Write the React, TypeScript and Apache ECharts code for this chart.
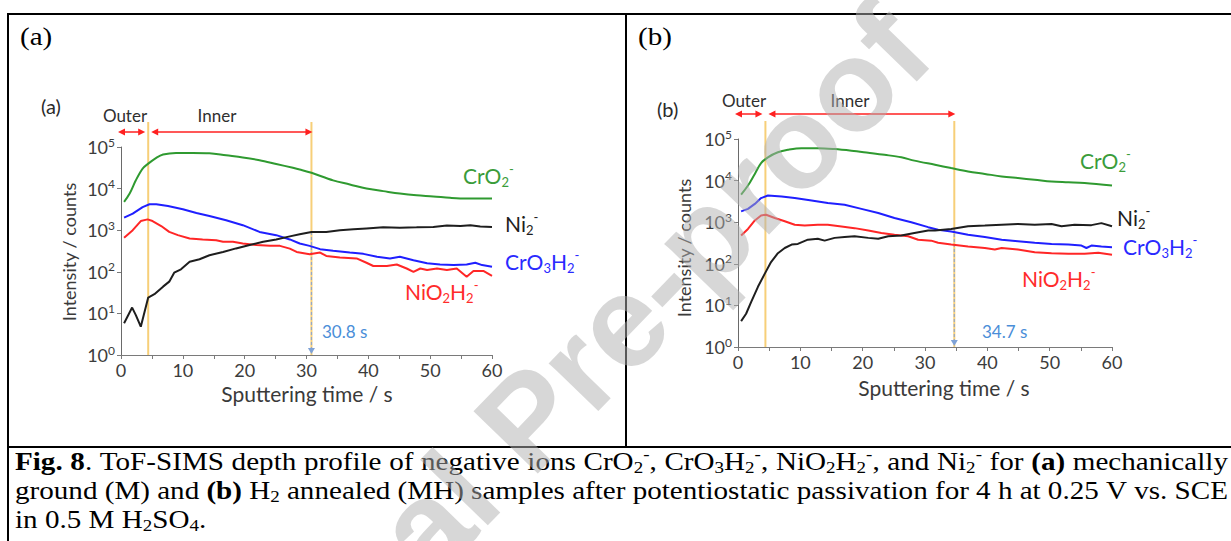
import React, { useEffect, useRef } from "react";
import * as echarts from "echarts";

type Pt = [number, number]; // [sputtering time (s), intensity (counts)]

// ---- (a) mechanically ground (M) ----
const cro2M: Pt[] = [
  [0.5, 4800], [1.4, 7600], [2.4, 15800], [3.5, 30200], [4.4, 39800], [5.7, 55000],
  [6.8, 66000], [8.9, 72000], [11.6, 72000], [14.3, 71000], [17.0, 63000], [19.7, 56000],
  [22.4, 48000], [25.1, 39000], [27.8, 31600], [28.9, 28800], [30.8, 24000], [34.3, 15800],
  [37.0, 12600], [39.7, 10000], [42.4, 8700], [45.1, 7600], [47.8, 6900], [50.5, 6500],
  [53.2, 6000], [55.9, 5750], [60.0, 5750],
];
const cro3h2M: Pt[] = [
  [0.5, 2000], [1.9, 2500], [3.5, 3600], [4.6, 4200], [5.7, 4200], [7.6, 3800], [10.0, 3200],
  [12.2, 2600], [14.3, 2200], [17.0, 1740], [19.7, 1320], [22.4, 910], [25.1, 760], [27.3, 600],
  [28.9, 480], [30.5, 420], [32.2, 350], [34.3, 320], [37.0, 290], [39.2, 270], [41.4, 230],
  [43.5, 210], [45.1, 230], [47.3, 190], [49.5, 160], [51.6, 150], [53.8, 145], [55.9, 150],
  [57.3, 165], [58.4, 145], [60.0, 132],
];
const nio2h2M: Pt[] = [
  [0.5, 660], [1.9, 1000], [3.2, 1660], [4.3, 1820], [5.1, 1660], [6.5, 1260], [7.8, 910],
  [9.2, 760], [11.1, 630], [13.2, 600], [15.4, 575], [16.5, 525], [18.1, 525], [19.7, 480],
  [21.9, 440], [24.1, 420], [25.7, 420], [27.3, 360], [28.4, 300], [30.5, 265], [32.2, 290],
  [33.2, 240], [35.4, 220], [38.1, 210], [39.7, 165], [40.8, 138], [43.0, 138], [44.6, 150],
  [46.2, 120], [47.3, 100], [48.4, 120], [49.5, 110], [51.1, 120], [52.7, 110], [54.3, 120],
  [55.9, 76], [57.0, 105], [58.6, 105], [60.0, 80],
];
const ni2M: Pt[] = [
  [0.5, 5.8], [1.8, 13.8], [2.4, 9.1], [3.2, 4.8], [4.4, 24], [5.4, 29], [6.8, 44], [7.8, 58],
  [8.6, 95], [9.7, 115], [11.1, 174], [12.7, 200], [14.3, 250], [16.5, 300], [18.6, 365],
  [20.8, 440], [23.0, 525], [25.1, 600], [27.3, 710], [28.9, 800], [30.8, 910], [33.2, 910],
  [35.4, 1000], [37.6, 1050], [39.7, 1100], [42.4, 1170], [45.1, 1150], [47.8, 1170], [50.5, 1200],
  [52.7, 1290], [54.9, 1260], [56.5, 1320], [58.1, 1230], [60.0, 1200],
];
const boundariesM = [4.4, 30.8];

// ---- (b) H2 annealed (MH) ----
const cro2MH: Pt[] = [
  [0.5, 4600], [1.6, 7600], [2.7, 14500], [3.7, 26300], [4.8, 36300], [6.4, 47900], [8.0, 55000],
  [10.2, 60300], [12.8, 60300], [15.5, 57500], [18.2, 52500], [20.9, 46800], [23.5, 41700],
  [26.2, 36300], [28.3, 30200], [31.6, 24000], [34.2, 20000], [36.9, 16600], [39.6, 14500],
  [42.3, 12600], [44.9, 11500], [47.6, 10500], [50.3, 9500], [53.0, 9100], [55.6, 8700], [60.0, 7600],
];
const cro3h2MH: Pt[] = [
  [0.5, 1820], [1.6, 2090], [2.7, 2750], [3.7, 3800], [4.8, 4370], [7.0, 4170], [9.1, 3800],
  [11.8, 3310], [14.4, 2880], [17.1, 2630], [19.8, 2090], [22.5, 1660], [25.1, 1260], [27.8, 1000],
  [30.5, 760], [32.1, 660], [34.2, 600], [36.9, 500], [39.6, 440], [42.3, 380], [44.9, 350],
  [47.6, 320], [50.3, 300], [53.0, 290], [55.1, 275], [55.9, 240], [56.7, 275], [58.3, 260], [60.0, 250],
];
const nio2h2MH: Pt[] = [
  [0.5, 480], [1.6, 690], [2.7, 1100], [3.7, 1450], [4.5, 1510], [5.9, 1260], [7.5, 1050],
  [9.1, 870], [10.7, 830], [12.8, 870], [14.4, 870], [16.6, 790], [18.7, 720], [20.9, 630],
  [23.0, 550], [25.1, 500], [27.3, 460], [28.9, 380], [31.0, 360], [32.1, 320], [34.2, 290],
  [36.9, 260], [39.6, 240], [41.2, 220], [42.3, 240], [44.9, 220], [47.6, 190], [50.3, 180],
  [53.0, 175], [55.6, 175], [57.8, 185], [60.0, 165],
];
const ni2MH: Pt[] = [
  [0.5, 4.2], [1.3, 6.3], [2.1, 12], [3.2, 28], [4.3, 58], [5.3, 110], [6.4, 180], [7.5, 240],
  [8.6, 290], [9.6, 300], [11.2, 380], [12.8, 400], [13.9, 360], [15.5, 420], [17.1, 440],
  [18.7, 460], [20.9, 420], [22.5, 400], [24.1, 460], [26.2, 480], [28.3, 550], [30.5, 630],
  [31.6, 630], [34.2, 690], [36.9, 800], [39.6, 830], [42.3, 870], [44.9, 910], [47.6, 870],
  [50.3, 910], [51.9, 800], [54.0, 870], [56.7, 850], [58.3, 950], [60.0, 800],
];
const boundariesMH = [4.4, 34.7];

// axis ranges
const timeRange = [0, 60];
const timeStep = 10;
const countRange = [1, 100000];

const SANS = "Lato";
const SERIF = "Liberation Serif";
const RED = "#ff2020";

type Ion = "cro2" | "cro3h2" | "nio2h2" | "ni2";
const ionOrder: Ion[] = ["cro2", "cro3h2", "nio2h2", "ni2"];
const lineColors: Record<Ion, string> = {
  cro2: "#2f9a30", cro3h2: "#1f1fff", nio2h2: "#ff2626", ni2: "#1e1e1e",
};
const labelColors: Record<Ion, string> = {
  cro2: "#3a9c3a", cro3h2: "#2a2aff", nio2h2: "#ff2b2b", ni2: "#1e1e1e",
};
const ionNames: Record<Ion, [string, string][]> = {
  cro2: [["n", "CrO"], ["s", "2"], ["p", "-"]],
  ni2: [["n", "Ni"], ["s", "2"], ["p", "-"]],
  cro3h2: [["n", "CrO"], ["s", "3"], ["n", "H"], ["s", "2"], ["p", "-"]],
  nio2h2: [["n", "NiO"], ["s", "2"], ["n", "H"], ["s", "2"], ["p", "-"]],
};

const panels = [
  {
    header: "(a)",
    data: { cro2: cro2M, cro3h2: cro3h2M, nio2h2: nio2h2M, ni2: ni2M } as Record<Ion, Pt[]>,
    bounds: boundariesM,
    grid: { left: 121, top: 147, width: 371, height: 208 },
    headerPos: [20, 36], tagPos: [41, 106],
    outerPos: [125, 115], innerPos: [217, 115],
    arrowY: 132, yellowTop: 122,
    labelPos: { cro2: [463, 175], ni2: [505, 223], cro3h2: [505, 261], nio2h2: [405, 291] } as Record<Ion, number[]>,
    boundLabelPos: [322, 331],
    xTitlePos: [307, 393], yTitlePos: [69, 252],
  },
  {
    header: "(b)",
    data: { cro2: cro2MH, cro3h2: cro3h2MH, nio2h2: nio2h2MH, ni2: ni2MH } as Record<Ion, Pt[]>,
    bounds: boundariesMH,
    grid: { left: 738, top: 139, width: 374, height: 208 },
    headerPos: [638, 36], tagPos: [657, 109],
    outerPos: [744, 100], innerPos: [850, 100],
    arrowY: 114, yellowTop: 121,
    labelPos: { cro2: [1080, 160], ni2: [1117, 217], cro3h2: [1123, 246], nio2h2: [1022, 278] } as Record<Ion, number[]>,
    boundLabelPos: [982, 331],
    xTitlePos: [944, 387], yTitlePos: [684, 248],
  },
];

// caption words: each word is a list of [style, text] runs
type Run = [string, string];
const captionLines: Run[][][] = [
  [
    [["b", "Fig."]], [["b", "8"], ["r", "."]], [["r", "ToF-SIMS"]], [["r", "depth"]], [["r", "profile"]],
    [["r", "of"]], [["r", "negative"]], [["r", "ions"]],
    [["r", "CrO"], ["s", "2"], ["p", "-"], ["r", ","]],
    [["r", "CrO"], ["s", "3"], ["r", "H"], ["s", "2"], ["p", "-"], ["r", ","]],
    [["r", "NiO"], ["s", "2"], ["r", "H"], ["s", "2"], ["p", "-"], ["r", ","]],
    [["r", "and"]], [["r", "Ni"], ["s", "2"], ["p", "-"]], [["r", "for"]], [["b", "(a)"]],
    [["r", "mechanically"]],
  ],
  [
    [["r", "ground"]], [["r", "(M)"]], [["r", "and"]], [["b", "(b)"]], [["r", "H"], ["s", "2"]],
    [["r", "annealed"]], [["r", "(MH)"]], [["r", "samples"]], [["r", "after"]], [["r", "potentiostatic"]],
    [["r", "passivation"]], [["r", "for"]], [["r", "4"]], [["r", "h"]], [["r", "at"]], [["r", "0.25"]],
    [["r", "V"]], [["r", "vs."]], [["r", "SCE"]],
  ],
  [
    [["r", "in"]], [["r", "0.5"]], [["r", "M"]], [["r", "H"], ["s", "2"], ["r", "SO"], ["s", "4"], ["r", "."]],
  ],
];

const CAP_SIZE = 26;
const CAP_SUB = 17;
const CAP_SX = 1.12; // caption glyphs are set a little wide
const CAP_LINE_Y = [461, 490, 519];
const CAP_LEFT = 15;
const CAP_RIGHT = 1228;

function richText(runs: Run[]) {
  return runs.map(([s, t]) => `{${s}|${t}}`).join("");
}

function buildOption() {
  return {
    animation: false,
    backgroundColor: "#ffffff",
    textStyle: { fontFamily: SANS },
    grid: panels.map((p) => ({ ...p.grid })),
    xAxis: panels.map((_, i) => ({
      type: "value",
      gridIndex: i,
      min: timeRange[0],
      max: timeRange[1],
      interval: timeStep,
      axisLine: { show: true, onZero: false, lineStyle: { color: "#7a7a7a", width: 1 } },
      axisTick: { show: true, length: 4, lineStyle: { color: "#7a7a7a" } },
      minorTick: { show: true, splitNumber: 2, length: 4, lineStyle: { color: "#7a7a7a" } },
      splitLine: { show: false },
      axisLabel: { fontSize: 18, color: "#3c3c3c", margin: 6, fontFamily: SANS },
    })),
    yAxis: panels.map((_, i) => ({
      type: "log",
      gridIndex: i,
      logBase: 10,
      min: countRange[0],
      max: countRange[1],
      splitNumber: 5,
      axisLine: { show: true, lineStyle: { color: "#6a6a6a", width: 1 } },
      axisTick: { show: true, length: 4, lineStyle: { color: "#7a7a7a" } },
      splitLine: { show: false },
      axisLabel: {
        margin: 6,
        color: "#3c3c3c",
        formatter: (v: number) => `{b|10}{e|${Math.round(Math.log10(v))}}`,
        rich: {
          b: { fontSize: 18, fontFamily: SANS, color: "#3c3c3c", lineHeight: 22 },
          e: { fontSize: 12, fontFamily: SANS, color: "#3c3c3c", lineHeight: 12, verticalAlign: "top" },
        },
      },
    })),
    series: panels.flatMap((p, i) =>
      ionOrder.map((ion) => ({
        type: "line",
        name: `${p.header} ${ion}`,
        xAxisIndex: i,
        yAxisIndex: i,
        data: p.data[ion],
        showSymbol: false,
        smooth: ion === "cro2" ? 0.35 : false,
        lineStyle: { color: lineColors[ion], width: 2 },
        itemStyle: { color: lineColors[ion] },
        z: 3,
      }))
    ),
  };
}

function lineEl(x1: number, y1: number, x2: number, y2: number, style: any, z = 1) {
  return { type: "line", z, shape: { x1, y1, x2, y2 }, style };
}

function textEl(x: number, y: number, text: string, style: any, z = 10, extra: any = {}) {
  return {
    type: "text",
    x,
    y,
    z,
    ...extra,
    style: { text, textAlign: "left", textVerticalAlign: "middle", ...style },
  };
}

function redArrow(x1: number, x2: number, y: number) {
  const L = 7;
  const h = 3.5;
  return [
    lineEl(x1 + L - 1, y, x2 - L + 1, y, { stroke: RED, lineWidth: 1.5 }, 6),
    { type: "polygon", z: 6, shape: { points: [[x1, y], [x1 + L, y - h], [x1 + L, y + h]] }, style: { fill: RED } },
    { type: "polygon", z: 6, shape: { points: [[x2, y], [x2 - L, y - h], [x2 - L, y + h]] }, style: { fill: RED } },
  ];
}

function ionRich(color: string) {
  return {
    n: { fontSize: 21, fontFamily: SANS, lineHeight: 26, fill: color },
    s: { fontSize: 13, fontFamily: SANS, lineHeight: 13, verticalAlign: "bottom", fill: color },
    p: { fontSize: 13, fontFamily: SANS, lineHeight: 13, verticalAlign: "top", fill: color },
  };
}

function nearestValue(series: Pt[], t: number) {
  let best = series[0];
  for (const pt of series) if (Math.abs(pt[0] - t) < Math.abs(best[0] - t)) best = pt;
  return best[1];
}

function buildGraphics(chart: echarts.ECharts) {
  const els: any[] = [];
  const frame = { stroke: "#000000", lineWidth: 2 };

  // table frame
  els.push(lineEl(7, 14, 1231, 14, frame, 20));
  els.push(lineEl(8, 14, 8, 541, frame, 20));
  els.push(lineEl(626, 14, 626, 447, frame, 20));
  els.push(lineEl(7, 447, 1231, 447, frame, 20));

  panels.forEach((p, i) => {
    const toPx = (t: number, v: number) =>
      chart.convertToPixel({ gridIndex: i } as any, [t, v]) as number[];
    const yBottom = toPx(timeRange[0], countRange[0])[1];
    const xStart = toPx(timeRange[0], countRange[0])[0];
    const xb0 = toPx(p.bounds[0], countRange[0])[0];
    const xb1 = toPx(p.bounds[1], countRange[0])[0];

    // layer boundaries
    [xb0, xb1].forEach((x) => {
      els.push(lineEl(x, p.yellowTop, x, yBottom, { stroke: "#f7cf78", lineWidth: 2 }, 1));
    });

    // dashed drop marker at the inner/substrate boundary
    const yNi = toPx(p.bounds[1], nearestValue(p.data.ni2, p.bounds[1]))[1];
    els.push(lineEl(xb1, yNi, xb1, yBottom - 5, { stroke: "#93a7c6", lineWidth: 1.2, lineDash: [3, 2] }, 2));
    els.push({
      type: "polygon",
      z: 2,
      shape: { points: [[xb1 - 3.5, yBottom - 7], [xb1 + 3.5, yBottom - 7], [xb1, yBottom - 1]] },
      style: { fill: "#7fa2d6" },
    });

    // outer / inner arrows
    els.push(...redArrow(xStart - 3, xb0 - 3, p.arrowY));
    els.push(...redArrow(xb0 + 3, xb1 + 1, p.arrowY));
    els.push(textEl(p.outerPos[0], p.outerPos[1], "Outer", { fontSize: 17, fontFamily: SANS, fill: "#2f2f2f", textAlign: "center" }));
    els.push(textEl(p.innerPos[0], p.innerPos[1], "Inner", { fontSize: 17, fontFamily: SANS, fill: "#2f2f2f", textAlign: "center" }));

    // boundary time label
    els.push(textEl(p.boundLabelPos[0], p.boundLabelPos[1], `${p.bounds[1]} s`, { fontSize: 17, fontFamily: SANS, fill: "#4a8ed8" }));

    // ion labels
    ionOrder.forEach((ion) => {
      const [lx, ly] = p.labelPos[ion];
      els.push(textEl(lx, ly, richText(ionNames[ion]), { fill: labelColors[ion], rich: ionRich(labelColors[ion]) }));
    });

    // axis titles
    els.push(textEl(p.xTitlePos[0], p.xTitlePos[1], "Sputtering time / s", { fontSize: 21, fontFamily: SANS, fill: "#3a3a3a", textAlign: "center" }));
    els.push(textEl(p.yTitlePos[0], p.yTitlePos[1], "Intensity / counts", { fontSize: 18, fontFamily: SANS, fill: "#3a3a3a", textAlign: "center" }, 10, { rotation: Math.PI / 2 }));

    // small panel tag inside the figure
    els.push(textEl(p.tagPos[0], p.tagPos[1], p.header, { fontSize: 20, fontFamily: SANS, fill: "#2a2a2a" }));
    // panel header in the table cell
    els.push(textEl(p.headerPos[0], p.headerPos[1], p.header, { fontSize: 26, fontFamily: SERIF, fill: "#000000" }, 10, { scaleX: CAP_SX }));
  });

  // caption, justified on the first two lines
  const canvas = document.createElement("canvas");
  const ctx = canvas.getContext("2d")!;
  const fontFor = (s: string) =>
    s === "b" ? `bold ${CAP_SIZE}px "${SERIF}"` : s === "r" ? `${CAP_SIZE}px "${SERIF}"` : `${CAP_SUB}px "${SERIF}"`;
  const wordWidth = (w: Run[]) =>
    CAP_SX *
    w.reduce((acc, [s, t]) => {
      ctx.font = fontFor(s);
      return acc + ctx.measureText(t).width;
    }, 0);
  ctx.font = fontFor("r");
  const spaceW = CAP_SX * ctx.measureText(" ").width;
  const capRich = {
    r: { fontSize: CAP_SIZE, fontFamily: SERIF, lineHeight: 30, fill: "#000" },
    b: { fontSize: CAP_SIZE, fontFamily: SERIF, fontWeight: "bold", lineHeight: 30, fill: "#000" },
    s: { fontSize: CAP_SUB, fontFamily: SERIF, lineHeight: CAP_SUB, verticalAlign: "bottom", fill: "#000" },
    p: { fontSize: CAP_SUB, fontFamily: SERIF, lineHeight: CAP_SUB, verticalAlign: "top", fill: "#000" },
  };
  captionLines.forEach((words, li) => {
    const widths = words.map(wordWidth);
    const total = widths.reduce((a, b) => a + b, 0);
    const justify = li < captionLines.length - 1;
    const gap = justify ? Math.max(spaceW * 0.8, (CAP_RIGHT - CAP_LEFT - total) / (words.length - 1)) : spaceW;
    let x = CAP_LEFT;
    words.forEach((w, wi) => {
      els.push(textEl(x, CAP_LINE_Y[li], richText(w), { fill: "#000", rich: capRich }, 10, { scaleX: CAP_SX }));
      x += widths[wi] + gap;
    });
  });

  // diagonal watermark
  els.push({
    type: "text",
    x: 527,
    y: 420,
    rotation: (46 * Math.PI) / 180,
    z: 100,
    style: {
      text: "Journal Pre-proof",
      fontSize: 130,
      fontWeight: "bold",
      fontFamily: "Liberation Sans",
      fill: "rgba(175,175,175,0.5)",
      textAlign: "center",
      textVerticalAlign: "middle",
    },
  });

  return els;
}

export default function App() {
  const ref = useRef<HTMLDivElement>(null);
  useEffect(() => {
    if (!ref.current) return;
    const chart = echarts.init(ref.current, null, { renderer: "svg" });
    chart.setOption(buildOption() as any);
    chart.setOption({ graphic: buildGraphics(chart) } as any);
    return () => chart.dispose();
  }, []);
  return (
    <div
      ref={ref}
      style={{ position: "absolute", left: 0, top: 0, width: 1231, height: 541, background: "#fff" }}
    />
  );
}
